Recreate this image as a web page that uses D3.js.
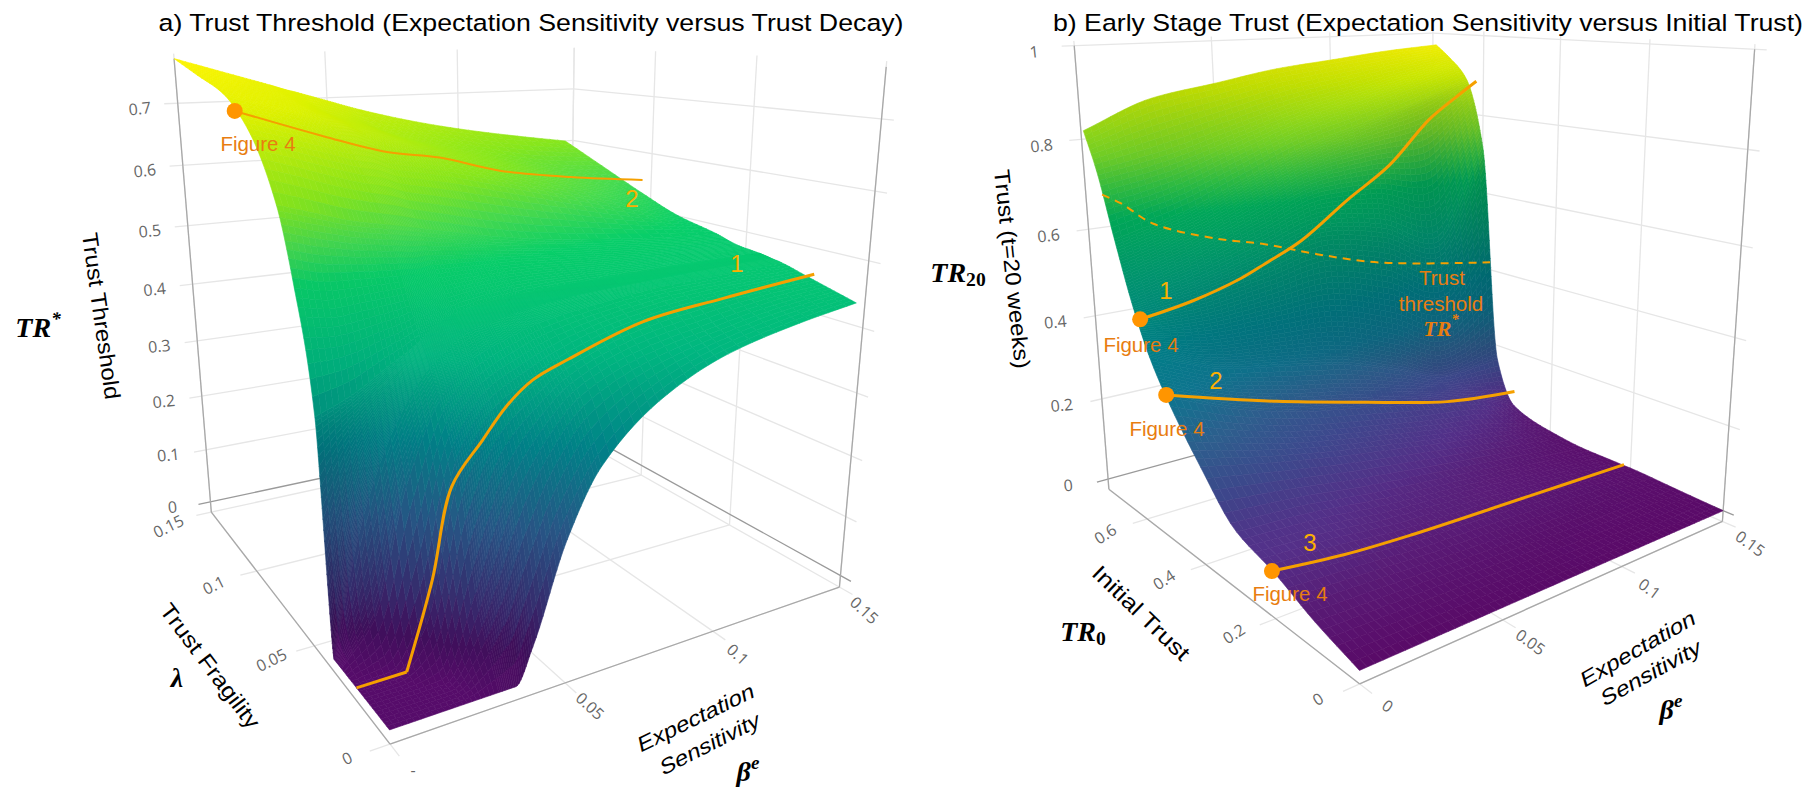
<!DOCTYPE html>
<html><head><meta charset="utf-8">
<script src="https://cdnjs.cloudflare.com/ajax/libs/d3/7.8.5/d3.min.js"></script>
<style>html,body{margin:0;padding:0;background:#fff;overflow:hidden}svg{display:block}</style>
</head><body>
<script>
// ---------- data ----------
const tickBeta = [0, 0.05, 0.1, 0.15];
const tickFragility = [0, 0.05, 0.1, 0.15];
const tickThreshold = [0, 0.1, 0.2, 0.3, 0.4, 0.5, 0.6, 0.7];
const tickInitialTrust = [0, 0.2, 0.4, 0.6];
const tickTrust20 = [0, 0.2, 0.4, 0.6, 0.8, 1];

const gridBetaA = [0, .01, .02, .03, .035, .04, .05, .06, .08, .1, .125, .1465];
const gridFragility = [0, .01, .02, .03, .035, .04, .05, .06, .08, .1, .125, .15];
const thresholdRows = [
 [0,0,0,0,0,.05,.19,.28,.36,.40,.425,.44],
 [0,0,0,.09,.16,.23,.31,.36,.40,.42,.44,.45],
 [0,0,.06,.26,.31,.345,.375,.40,.43,.445,.455,.46],
 [0,.06,.24,.35,.38,.40,.42,.435,.45,.46,.465,.47],
 [0,.2,.32,.39,.41,.43,.44,.45,.46,.465,.47,.473],
 [.34,.36,.39,.42,.44,.45,.46,.465,.47,.472,.475,.476],
 [.50,.49,.49,.49,.49,.495,.495,.495,.49,.485,.482,.48],
 [.60,.585,.57,.56,.555,.55,.54,.53,.515,.505,.495,.49],
 [.69,.675,.66,.645,.64,.63,.62,.61,.585,.56,.53,.505],
 [.73,.715,.70,.685,.68,.67,.655,.64,.61,.585,.555,.53],
 [.75,.735,.72,.705,.695,.685,.67,.65,.625,.60,.575,.565],
 [.77,.755,.74,.725,.717,.71,.695,.68,.655,.635,.615,.60]
];
const curveA1Beta = [0, .014, .022, .028, .037, .044, .052, .063, .087, .115, .15];
const curveA1Fragility = [.02,.02,.02,.02,.02,.02,.02,.02,.02,.02,.02];
const curveA1Value = [0, 0, .125, .25, .305, .345, .375, .395, .43, .445, .46];
const curveA2Beta = [.003, .034, .058, .077, .1, .128, .15];
const curveA2Fragility = [.1,.112,.12,.12,.12,.118,.105];
const curveA2Value = [.705,.655,.62,.605,.575,.555,.55];

const gridBetaB = [0, .025, .05, .075, .1, .125, .15];
const gridInitial = [0, .1, .2, .3, .4, .5, .55, .6, .65, .7, .74];
const trustRows = [
 [0,0,0,0,0,0,0],
 [.03,.025,.02,.015,.01,.008,.005],
 [.07,.06,.045,.04,.03,.02,.01],
 [.10,.09,.07,.055,.04,.025,.01],
 [.19,.155,.125,.10,.075,.05,.02],
 [.30,.235,.19,.16,.13,.105,.05],
 [.37,.31,.28,.25,.20,.15,.16],
 [.47,.50,.54,.58,.56,.50,.72],
 [.60,.64,.70,.76,.80,.84,.89],
 [.74,.77,.81,.85,.88,.91,.94],
 [.82,.88,.905,.93,.945,.96,.97]
];
const curveB1Beta = [0, .02, .04, .05, .065, .085, .105, .125, .14, .15];
const curveB1Initial = [.575,.585,.6,.6,.6,.6,.605,.612,.62,.62];
const curveB1Value = [.445,.46,.485,.51,.55,.63,.70,.80,.85,.885];
const curveB2Beta = [0, .04, .078, .115, .15];
const curveB2Initial = [.5,.5,.5,.5,.5];
const curveB2Value = [.305,.23,.17,.115,.09];
const curveB3Beta = [0, .025, .05, .1, .15];
const curveB3Initial = [.205,.205,.205,.205,.215];
const curveB3Value = [.07,.05,.04,.03,.012];
const dashBeta = [0, .005, .013, .033, .05, .07, .095, .15];
const dashInitial = [.685,.67,.64,.615,.6,.59,.57,.575];
const dashValue = [.69,.67,.625,.58,.555,.515,.475,.42];

const rampStops = [0, .06, .13, .26, .39, .52, .65, .71, .78, .91, 1];
const rampColorsA = ["#560c6a","#420f5e","#3a2c72","#2a5a8c","#00858c","#00b881","#08d06a","#46dc50","#88e81c","#def200","#fff500"];
const rampStopsB = [0, .04, .08, .15, .22, .3, .39, .52, .65, .71, .78, .91, 1];
const rampColorsB = ["#5a0a68","#5a1c78","#55308a","#3f4a90","#2f6292","#0f7a95","#00878f","#00a078","#00b85f","#32cc46","#78de28","#d0f000","#fff500"];
const subdivBetaA = [6,6,8,10,10,10,10,8,6,6,6];
const subdivFragility = [6,6,6,10,30,10,10,8,8,6,6];
const subdivBetaB = [10,10,10,10,10,10];
const subdivInitial = [6,6,6,6,8,12,30,24,12,8];

// ---------- helpers ----------
const svg = d3.select("body").append("svg").attr("width",1818).attr("height",789);
const ORANGE="#f5a000", LABEL="#e87d10", DOT="#ff9500", DIGIT="#fdb000";
const SANS="'Liberation Sans',Arial,sans-serif", SERIF="'Liberation Serif',serif", TICK="'Open Sans',sans-serif";

function solve(A,b){
  const n=b.length, M=A.map((r,i)=>[...r,b[i]]);
  for(let c=0;c<n;c++){
    let p=c; for(let r=c+1;r<n;r++) if(Math.abs(M[r][c])>Math.abs(M[p][c])) p=r;
    [M[c],M[p]]=[M[p],M[c]];
    for(let r=0;r<n;r++) if(r!==c){const f=M[r][c]/M[c][c]; for(let k=c;k<=n;k++) M[r][k]-=f*M[c][k];}
  }
  return M.map((r,i)=>r[n]/r[i]);
}
function fitCamera(pairs){
  const rows=[],rhs=[];
  pairs.forEach(([X,Y,Z,u,v])=>{
    rows.push([X,Y,Z,1,0,0,0,0,-u*X,-u*Y,-u*Z]); rhs.push(u);
    rows.push([0,0,0,0,X,Y,Z,1,-v*X,-v*Y,-v*Z]); rhs.push(v);
  });
  const N=d3.range(11).map(i=>d3.range(11).map(j=>d3.sum(rows,r=>r[i]*r[j])));
  const B=d3.range(11).map(i=>d3.sum(rows,(r,k)=>r[i]*rhs[k]));
  return solve(N,B);
}
function pchip(xs,ys){
  const n=xs.length,h=[],d=[],m=new Array(n).fill(0);
  for(let i=0;i<n-1;i++){h[i]=xs[i+1]-xs[i];d[i]=(ys[i+1]-ys[i])/h[i];}
  m[0]=d[0];m[n-1]=d[n-2];
  for(let i=1;i<n-1;i++){
    if(d[i-1]*d[i]<=0) m[i]=0;
    else{const a=h[i-1]+2*h[i],b=2*h[i-1]+h[i];m[i]=(a+b)/(a/d[i-1]+b/d[i]);}
  }
  return x=>{
    let i=Math.min(n-2,Math.max(0,d3.bisectRight(xs,x)-1));
    const t=(x-xs[i])/h[i],t2=t*t,t3=t2*t;
    return (2*t3-3*t2+1)*ys[i]+(t3-2*t2+t)*h[i]*m[i]+(-2*t3+3*t2)*ys[i+1]+(t3-t2)*h[i]*m[i+1];
  };
}
function refine(xs,subs){const o=[];for(let i=0;i<xs.length-1;i++)for(let j=0;j<subs[i];j++)o.push(xs[i]+(xs[i+1]-xs[i])*j/subs[i]);o.push(xs[xs.length-1]);return o;}

function drawPanel(c){
  const g=svg.append("g");
  const color=d3.scaleLinear().domain(c.stops).range(c.colors).clamp(true);
  const sx=d3.scaleLinear().domain([0,c.xMax]).range([0,1]);
  const sy=d3.scaleLinear().domain([0,c.yMax]).range([0,1]);
  const sz=d3.scaleLinear().domain([0,c.zTop]).range([0,1]);
  const P=fitCamera(c.calib.map(([x,y,z,u,v])=>[sx(x),sy(y),sz(z),u,v]));
  const W=(x,y,z)=>P[8]*sx(x)+P[9]*sy(y)+P[10]*sz(z)+1;
  const pr=(x,y,z)=>{const X=sx(x),Y=sy(y),Z=sz(z),w=W(x,y,z);
    return [(P[0]*X+P[1]*Y+P[2]*Z+P[3])/w,(P[4]*X+P[5]*Y+P[6]*Z+P[7])/w];};
  const seg=(a,b,col,wd)=>g.append("path").attr("d",d3.line()([pr(...a),pr(...b)])).attr("stroke",col).attr("stroke-width",wd||1.3).attr("fill","none");
  const xM=c.xMax,yM=c.yMax,z0=c.zFloor,zT=c.zTop,ex=xM*.035,ey=yM*.035;
  const GRID="#e6e6e6",AX="#a8a8a8",ZERO="#9a9a9a";
  c.xTicks.forEach(x=>seg([x,-ey,z0],[x,yM,z0],GRID));
  c.yTicks.forEach(y=>seg([-ex,y,z0],[xM,y,z0],GRID));
  c.xTicks.forEach(x=>seg([x,yM,z0],[x,yM,zT*1.01],GRID));
  c.yTicks.forEach(y=>seg([xM,y,z0],[xM,y,zT*1.01],GRID));
  c.zTicks.forEach(z=>{const col=z===0?ZERO:GRID;
    seg([-ex*.8,yM,z],[xM,yM,z],col); seg([xM,yM,z],[xM,-ey*.8,z],col);});
  seg([0,yM,z0],[0,yM,zT],AX); seg([xM,0,z0],[xM,0,zT],AX);
  seg([0,0,z0],[0,yM,z0],AX); seg([0,0,z0],[xM,0,z0],AX);
  // surface
  const fx=refine(c.gridX,c.subX), fy=refine(c.gridY,c.subY);
  const rowsFine=c.rows.map(r=>{const f=pchip(c.gridX,r);return fx.map(f);});
  const Z=fx.map((_,i)=>{const f=pchip(c.gridY,rowsFine.map(r=>r[i]));return fy.map(y=>Math.max(0,f(y)));});
  const cells=[];
  for(let i=0;i<fx.length-1;i++)for(let j=0;j<fy.length-1;j++){
    const q=[[i,j],[i+1,j],[i+1,j+1],[i,j+1]];
    const zs=q.map(([a,b])=>Z[a][b]), zm=d3.mean(zs);
    const gy=Math.abs((Z[i][j+1]+Z[i+1][j+1]-Z[i][j]-Z[i+1][j])/2)/zT/((fy[j+1]-fy[j])/yM);
    const base=color(zm/c.colorMax);
    cells.push({pts:q.map(([a,b])=>pr(fx[a],fy[b],Z[a][b])),
      fill:d3.interpolateRgb(base,"#000c18")(c.shadeMax*gy/(gy+c.shadeG)),
      d:W((fx[i]+fx[i+1])/2,(fy[j]+fy[j+1])/2,zm)});
  }
  cells.sort((a,b)=>d3.descending(a.d,b.d));
  const ln=d3.line().curve(d3.curveLinearClosed);
  g.append("g").selectAll("path").data(cells).join("path")
    .attr("d",d=>ln(d.pts)).attr("fill",d=>d.fill).attr("stroke",d=>d.fill).attr("stroke-width",.6).attr("stroke-linejoin","round");
  // tick labels
  const tick=(txt,p,off,rot)=>g.append("text").attr("transform",`translate(${p[0]+off[0]},${p[1]+off[1]}) rotate(${rot})`)
     .attr("text-anchor","middle").attr("dominant-baseline","central").attr("font-family",TICK).attr("font-size",16).attr("fill","#666").text(txt);
  c.zTicks.forEach(z=>tick(String(z),pr(0,yM,z),c.offZ,-6));
  c.yTicks.forEach(y=>tick(String(y),pr(0,y,z0),c.offY,c.rotY));
  c.xTicks.forEach(x=>{ if(x===0&&c.clipX0) tick("-",pr(0,0,z0),[23,26],0); else tick(String(x),pr(x,0,z0),c.offX,c.rotX); });
  // curves
  const smooth=d3.line().curve(d3.curveCatmullRom.alpha(.5));
  c.curves.forEach(k=>{
    const pts=k.x.map((x,i)=>pr(x,k.y[i],k.z[i])), knee=k.knee||0;
    if(knee) g.append("path").attr("d",d3.line()(pts.slice(0,knee+1))).attr("fill","none").attr("stroke",ORANGE).attr("stroke-width",k.w);
    g.append("path").attr("d",smooth(pts.slice(knee))).attr("fill","none")
     .attr("stroke",ORANGE).attr("stroke-width",k.w).attr("stroke-dasharray",k.dash||null);
    if(k.dot) g.append("circle").attr("cx",pts[0][0]).attr("cy",pts[0][1]).attr("r",8).attr("fill",DOT);
  });
  return g;
}
function label(txt,x,y,o={}){
  const t=svg.append("text").attr("transform",`translate(${x},${y}) rotate(${o.rot||0}) skewX(${o.skew||0})`)
    .attr("text-anchor",o.anchor||"middle").attr("dominant-baseline","central")
    .attr("font-family",o.font||SANS).attr("font-size",o.size||21).attr("fill",o.fill||"#000")
    .attr("font-weight",o.weight||"normal").attr("font-style",o.style||"normal").text(txt);
  if(o.len) t.attr("textLength",o.len).attr("lengthAdjust","spacingAndGlyphs");
  return t;
}
function math(base,supText,subText,x,y,o={}){
  const t=label(base,x,y,Object.assign({font:SERIF,weight:"bold",style:"italic",size:28},o));
  if(supText) t.append("tspan").attr("dy",-9).attr("font-size",(o.size||28)*.68).text(supText);
  if(subText) t.append("tspan").attr("dy",7).attr("font-style","normal").attr("font-size",(o.size||28)*.7).text(subText);
}

// ---------- panel a ----------
drawPanel({
  xMax:.15,yMax:.15,zFloor:-.02,zTop:.77,colorMax:.77,stops:rampStops,colors:rampColorsA,shadeMax:.3,shadeG:12,
  xTicks:tickBeta,yTicks:tickFragility,zTicks:tickThreshold,
  gridX:gridBetaA,gridY:gridFragility,rows:thresholdRows,subX:subdivBetaA,subY:subdivFragility,
  calib:[[0,0,-.02,394,744],[.15,0,-.02,841,586],[0,.15,-.02,210,512],[.15,.15,0,569,424],
   [0,.15,.7,176,104],[0,.15,.3,197,340],[0,.15,.77,175,58],[0,.15,0,209,499],
   [.15,0,.77,887,65],[.15,0,.7,882,118],[.15,0,.4,859,328],[.15,0,0,842,577],
   [.15,.15,.7,574,90],[.15,.15,.77,575,53],
   [.05,0,-.02,562,684],[.1,0,-.02,710,632],[0,.05,-.02,315,644],[0,.1,-.02,260,576]],
  offZ:[-38,5],offY:[-43,14],rotY:-26,offX:[25,23],rotX:43,clipX0:true,
  curves:[
   {x:curveA1Beta,y:curveA1Fragility,z:curveA1Value,w:3,knee:1},
   {x:curveA2Beta,y:curveA2Fragility,z:curveA2Value,w:2,dot:true}
  ]
});
// ---------- panel b ----------
drawPanel({
  xMax:.15,yMax:.75,zFloor:-.026,zTop:1,colorMax:.98,stops:rampStopsB,colors:rampColorsB,shadeMax:.4,shadeG:6,
  xTicks:tickBeta,yTicks:tickInitialTrust,zTicks:tickTrust20,
  gridX:gridBetaB,gridY:gridInitial,rows:trustRows,subX:subdivBetaB,subY:subdivInitial,
  calib:[[0,0,-.026,1355,682],[.15,0,-.026,1721,519],[0,.75,-.026,1106,487],[.15,.75,0,1437,392],
   [0,.75,1,1076,46],[0,.75,.8,1082,139],[0,.75,.4,1097,315],[0,.75,0,1106,476],
   [.15,0,1,1757,49],[.15,0,.8,1749,150],[.15,0,.4,1735,338],[.15,0,0,1722,510],
   [.15,.75,1,1428,33],
   [.05,0,-.026,1503,621],[.1,0,-.026,1622,566],[0,.2,-.026,1278,622],[0,.4,-.026,1207,567],[0,.6,-.026,1149,521]],
  offZ:[-40,6],offY:[-42,15],rotY:-33,offX:[28,22],rotX:36,
  curves:[
   {x:dashBeta,y:dashInitial,z:dashValue,w:2,dash:"8,6"},
   {x:curveB1Beta,y:curveB1Initial,z:curveB1Value,w:3,dot:true},
   {x:curveB2Beta,y:curveB2Initial,z:curveB2Value,w:3,dot:true},
   {x:curveB3Beta,y:curveB3Initial,z:curveB3Value,w:3,dot:true}
  ]
});
// ---------- text ----------
label("a) Trust Threshold (Expectation Sensitivity versus Trust Decay)",531,22,{size:24.5,len:745});
label("b) Early Stage Trust (Expectation Sensitivity versus Initial Trust)",1428,22,{size:24.5,len:750});
label("Trust Threshold",101,316,{rot:82,size:22,len:168});
label("Trust Fragility",210,666,{rot:53,size:22,len:150});
label("Expectation",696,718,{rot:-26,size:21,skew:-14,len:128});
label("Sensitivity",710,744,{rot:-27,size:21,skew:-14,len:110});
math("TR","*",null,38,327);
math("λ",null,null,177,677);
math("β","e",null,748,771);
label("Trust (t=20 weeks)",1012,269,{rot:84,size:22,len:200});
label("Initial Trust",1141,613,{rot:44,size:22,len:126});
label("Expectation",1638,649,{rot:-30,size:21,skew:-14,len:130});
label("Sensitivity",1651,673,{rot:-29,size:21,skew:-14,len:112});
math("TR",null,"20",958,272);
math("TR",null,"0",1083,631);
math("β","e",null,1671,709);
[[258,143],[1141,344],[1167,428],[1290,593]].forEach(([x,y])=>label("Figure 4",x,y,{size:20.5,fill:LABEL}));
[["1",737,263],["2",632,198],["1",1166,290],["2",1216,380],["3",1310,542]].forEach(([t,x,y])=>label(t,x,y,{size:24,fill:DIGIT}));
label("Trust",1442,277,{size:20.5,fill:LABEL});
label("threshold",1441,303,{size:20.5,fill:LABEL});
math("TR","*",null,1441,328,{size:22,fill:LABEL});
</script>
</body></html>
